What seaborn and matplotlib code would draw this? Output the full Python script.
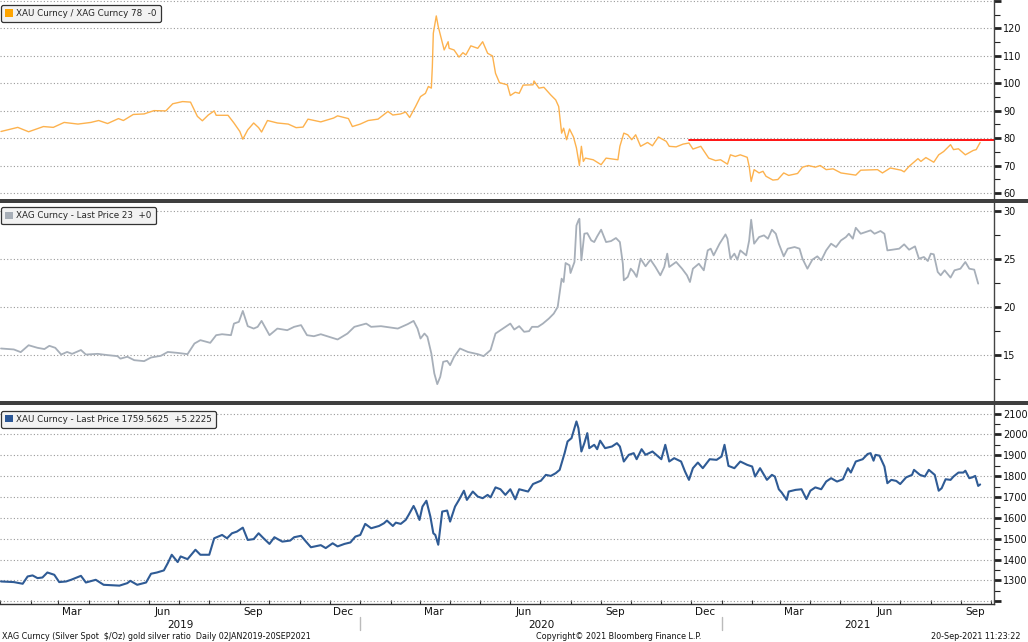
import pandas as pd
import matplotlib
matplotlib.use('Agg')
import matplotlib.pyplot as plt
import matplotlib.dates as mdates
import matplotlib.transforms as mtransforms
from matplotlib.patches import Patch, Rectangle
from matplotlib.ticker import FixedLocator
import seaborn as sns

# day offsets are counted from 1 Jan 2019
start = pd.Timestamp('2019-01-01')
end = pd.Timestamp('2021-10-04')

# XAU / XAG ratio
ratio_day = [1, 18, 29, 44, 54, 65, 79, 92, 100, 109,
             120, 125, 135, 146, 156, 168, 175, 185, 193, 200,
             205, 211, 217, 219, 231, 237, 243, 246, 251, 257,
             262, 265, 271, 281, 292, 300, 307, 312, 325, 338,
             342, 353, 357, 365, 373, 383, 393, 398, 406, 411,
             415, 421, 426, 431, 434, 437, 438, 439, 442, 444,
             450, 454, 455, 460, 465, 469, 472, 477, 484, 489,
             494, 499, 502, 506, 514, 517, 522, 526, 530, 540,
             541, 546, 551, 558, 563, 566, 569, 571, 574, 577,
             581, 584, 587, 589, 591, 593, 601, 609, 614, 626,
             628, 632, 636, 640, 644, 649, 656, 661, 667, 675,
             678, 685, 692, 698, 702, 710, 718, 725, 730, 737,
             740, 745, 750, 757, 759, 761, 764, 769, 773, 776,
             783, 788, 794, 799, 808, 813, 819, 826, 831, 837,
             844, 852, 867, 872, 889, 894, 902, 913, 916, 921,
             930, 933, 938, 946, 951, 956, 963, 966, 971, 978,
             986, 989, 993]
ratio_val = [82.4, 83.9, 82.3, 84.2, 83.9, 85.7, 85.1, 85.7, 86.4, 85.3,
             87.1, 86.4, 88.6, 88.8, 90.0, 89.9, 92.5, 93.3, 93.1, 87.9,
             86.3, 88.4, 89.9, 88.3, 88.3, 85.5, 82.4, 79.6, 83.0, 85.5,
             83.8, 82.2, 86.4, 85.5, 85.1, 83.8, 84.0, 86.9, 85.9, 87.3,
             88.1, 87.1, 84.2, 85.1, 86.4, 86.9, 89.7, 88.4, 88.8, 89.5,
             87.5, 91.5, 95.1, 96.3, 98.8, 98.2, 106.0, 118.2, 124.5, 120.6,
             112.1, 115.1, 112.7, 112.1, 109.5, 111.1, 110.3, 113.6, 112.7, 115.1,
             110.9, 109.9, 103.6, 100.2, 99.4, 95.5, 96.7, 96.3, 99.3, 99.4,
             100.8, 98.2, 98.5, 95.7, 93.9, 91.5, 81.8, 83.6, 79.4, 83.3,
             80.4, 76.4, 70.0, 77.0, 71.5, 72.7, 72.1, 70.3, 72.7, 72.1,
             77.0, 81.8, 81.2, 79.4, 81.2, 77.0, 78.4, 77.2, 80.4, 78.8,
             77.0, 76.8, 77.8, 78.2, 76.0, 77.0, 72.7, 71.8, 72.1, 70.5,
             73.9, 73.3, 73.9, 73.0, 69.7, 64.2, 68.5, 67.3, 67.9, 66.1,
             64.7, 64.9, 67.3, 66.4, 67.1, 69.4, 70.0, 69.4, 70.0, 68.5,
             68.8, 67.3, 66.5, 68.3, 68.5, 67.3, 69.1, 68.3, 67.7, 69.7,
             72.5, 71.5, 72.9, 71.2, 73.9, 75.1, 77.6, 75.8, 76.1, 73.9,
             75.5, 75.8, 78.4]
red_start_day = 698
red_level = 79.3

# XAG spot
silver_day = [1, 14, 21, 29, 38, 45, 50, 56, 62, 68,
              73, 82, 87, 99, 109, 119, 122, 129, 136, 146,
              153, 163, 170, 180, 190, 197, 203, 213, 219, 225,
              234, 237, 242, 246, 251, 257, 261, 265, 273, 281,
              291, 298, 305, 311, 318, 325, 342, 352, 359, 371,
              376, 386, 403, 413, 419, 423, 426, 430, 433, 437,
              440, 443, 446, 449, 453, 456, 460, 466, 474, 484,
              490, 497, 502, 507,
              517, 521, 526, 531, 536, 539, 545, 550, 556, 561,
              565, 569, 571, 573, 577, 578, 582, 584, 586, 587,
              589, 592, 595, 599, 602, 605, 609, 614, 619, 624,
              628, 631, 632, 636, 639, 642, 645, 649, 654, 659,
              664, 669, 673, 676, 678, 685, 691, 696, 699, 702,
              708, 713, 717, 720, 723, 729, 735, 737, 740, 744,
              747, 750, 756, 759, 761, 764, 769, 774, 778, 782,
              786, 789, 794, 798, 805, 810, 813, 818, 823, 828,
              832, 837, 842, 847, 852, 857, 860, 864, 867, 872,
              877, 882, 886, 892, 896, 899, 904, 911, 916, 921,
              927, 931, 936, 940, 943, 946, 950, 953, 957, 963,
              967, 973, 978, 982, 987, 991]
silver_val = [15.66, 15.56, 15.28, 16.0, 15.73, 15.6, 15.94, 15.73, 15.03, 15.3,
              15.1, 15.5, 15.03, 15.1, 14.97, 14.86, 14.6, 14.8, 14.44, 14.34,
              14.72, 14.9, 15.3, 15.2, 15.07, 16.18, 16.53, 16.25, 17.05, 17.15,
              17.05, 18.26, 18.44, 19.58, 17.99, 17.74, 17.92, 18.54, 17.05, 17.74,
              17.57, 17.92, 18.1, 17.05, 16.94, 17.15, 16.6, 17.22, 17.92, 18.26,
              17.92, 17.99, 17.74, 18.2, 18.54, 17.74, 16.7, 17.22, 16.88, 15.14,
              13.06, 11.94, 12.7, 14.27, 14.37, 13.92, 14.79, 15.66, 15.3, 15.07,
              14.86, 15.5, 17.22, 17.57,
              18.26, 17.64, 17.99, 17.4, 17.47, 17.92, 17.92, 18.26, 18.78, 19.3,
              20.0, 22.95, 22.6, 24.58, 24.34, 23.54, 24.69, 28.5, 29.03, 29.2,
              24.86, 27.64, 27.7, 26.94, 26.77, 27.36, 28.06, 26.77, 26.87, 27.19,
              26.77, 24.51, 22.78, 23.13, 23.99, 23.65, 23.13, 25.03, 24.24, 24.93,
              24.17, 23.3, 24.17, 25.56, 24.17, 24.69, 23.99, 23.3, 22.6, 23.99,
              24.51, 23.82, 25.9, 26.08, 25.38, 26.6, 27.57, 27.12, 25.03, 25.56,
              24.93, 25.9, 25.38, 26.94, 29.1, 26.6, 27.29, 27.47, 27.12, 28.06,
              27.64, 26.6, 25.28, 26.08, 26.25, 26.08, 25.03, 23.99, 24.93, 25.28,
              24.86, 25.9, 26.6, 26.25, 26.94, 27.29, 27.64, 27.12, 28.26, 27.64,
              27.81, 27.99, 27.64, 27.92, 27.64, 25.9, 25.97, 26.08, 26.53, 25.97,
              26.32, 25.03, 25.21, 24.79, 25.56, 25.49, 23.65, 23.3, 23.82, 23.06,
              23.82, 23.99, 24.69, 23.99, 23.89, 22.43]

# XAU spot
gold_day = [1, 14, 23, 28, 33, 38, 43, 48, 55, 60,
            67, 72, 82, 87, 97, 105, 121, 129, 132, 139,
            148, 153, 159, 166, 170, 174, 180, 183, 190, 198,
            203, 212, 217, 225, 230, 235, 240, 246, 251, 257,
            262, 267, 273, 278, 286, 294, 298, 305, 310, 315,
            325, 330, 337, 342, 349, 355, 360, 365, 370, 376,
            384, 389, 392, 398, 401, 406, 411, 414, 419, 421,
            425, 428, 432, 436, 439, 441, 444, 448, 453, 456,
            461, 465, 470, 473, 479, 484, 489, 494, 497, 502,
            507,
            512, 517, 522, 526, 535, 540, 548, 553, 558, 563,
            567, 572, 575, 579, 584, 586, 589, 592, 595, 597,
            602, 605, 608, 613, 620, 625, 628, 632, 637, 642,
            645, 650, 654, 661, 670, 674, 678, 683, 690, 694,
            698, 702, 707, 712, 719, 726, 731, 734, 738, 744,
            750, 757, 762, 765, 770, 777, 782, 785, 789, 792,
            797, 799, 806, 812, 817, 821, 826, 832, 837, 842,
            848, 854, 859, 862, 867, 874, 879, 882, 885, 887,
            891, 896, 899, 903, 908, 912, 918, 924, 926, 932,
            937, 941, 947, 951, 954, 958, 963, 966, 971, 976,
            978, 982, 985, 988, 991, 993]
gold_val = [1295, 1292, 1284, 1319, 1324, 1311, 1314, 1338, 1327, 1292,
            1295, 1303, 1322, 1290, 1303, 1279, 1275, 1287, 1298, 1279,
            1290, 1332, 1338, 1348, 1383, 1423, 1388, 1415, 1402, 1447,
            1423, 1423, 1502, 1518, 1502, 1526, 1534, 1553, 1494, 1498,
            1526, 1502, 1475, 1507, 1486, 1491, 1507, 1514, 1486, 1459,
            1469, 1455, 1478, 1463, 1475, 1482, 1510, 1518, 1571, 1550,
            1561, 1574, 1587, 1561, 1577, 1571, 1590, 1614, 1657, 1638,
            1590, 1654, 1682, 1606, 1526, 1518, 1471, 1630, 1635, 1582,
            1654, 1686, 1730, 1686, 1726, 1702, 1694, 1710, 1698, 1746,
            1737,
            1710, 1737, 1689, 1737, 1726, 1762, 1778, 1806, 1801, 1814,
            1830, 1910, 1966, 1982, 2062, 2030, 1918, 1958, 2006, 1934,
            1950, 1929, 1970, 1934, 1942, 1958, 1942, 1870, 1902, 1910,
            1881, 1929, 1902, 1918, 1881, 1950, 1870, 1886, 1870, 1822,
            1782, 1838, 1865, 1838, 1881, 1878, 1894, 1950, 1849, 1838,
            1870, 1854, 1846, 1798, 1838, 1782, 1806, 1798, 1737, 1721,
            1686, 1726, 1734, 1737, 1690, 1730, 1746, 1737, 1774, 1790,
            1774, 1785, 1838, 1817, 1870, 1881, 1906, 1910, 1874, 1902,
            1898, 1846, 1766, 1782, 1777, 1762, 1794, 1806, 1830, 1806,
            1798, 1830, 1806, 1730, 1742, 1785, 1782, 1798, 1817, 1817,
            1826, 1790, 1794, 1801, 1753, 1760]

legend_ratio = 'XAU Curncy / XAG Curncy 78  -0'
legend_silver = 'XAG Curncy - Last Price 23  +0'
legend_gold = 'XAU Curncy - Last Price 1759.5625  +5.2225'


def to_dates(days):
    return start + pd.to_timedelta(days, unit='D')


sns.set_style('white')
plt.rcParams['font.family'] = ['DejaVu Sans']

fig = plt.figure(figsize=(10.28, 6.42), dpi=100)
W = 0.9669
ax1 = fig.add_axes([0, 0.6900, W, 0.3100])
ax2 = fig.add_axes([0, 0.3754, W, 0.3092])
ax3 = fig.add_axes([0, 0.0592, W, 0.3100])

sns.lineplot(x=to_dates(ratio_day), y=ratio_val, ax=ax1, color='#FDB24E', linewidth=1.0)
ax1.plot([to_dates([red_start_day])[0], end], [red_level, red_level], color='#FF0000', linewidth=1.3)
sns.lineplot(x=to_dates(silver_day), y=silver_val, ax=ax2, color='#A7AFB9', linewidth=1.3)
sns.lineplot(x=to_dates(gold_day), y=gold_val, ax=ax3, color='#2F5B95', linewidth=1.5)


def style_panel(ax, ylim, ticks, hidden, minor):
    ax.set_xlim(start, end)
    ax.set_ylim(*ylim)
    ax.yaxis.tick_right()
    ax.set_yticks(ticks)
    ax.set_yticklabels(['' if t in hidden else str(t) for t in ticks])
    ax.yaxis.set_minor_locator(FixedLocator(minor))
    ax.tick_params(axis='y', which='major', direction='out', length=5, width=2,
                   color='#222222', labelsize=7, pad=1.5, labelcolor='#111111')
    ax.tick_params(axis='y', which='minor', direction='out', length=4, width=0.8,
                   color='#222222')
    ax.grid(axis='y', which='major', color='#9a9a9a', linestyle=(0, (1, 2)), linewidth=0.8)
    ax.grid(axis='x', visible=False)
    for s in ['left', 'top', 'bottom']:
        ax.spines[s].set_visible(False)
    ax.spines['right'].set_color('#444444')
    ax.spines['right'].set_linewidth(1)
    ax.set_xlabel('')
    ax.set_ylabel('')


style_panel(ax1, (57.8, 130.3), [60, 70, 80, 90, 100, 110, 120, 130], [130],
            [65, 75, 85, 95, 105, 115, 125])
style_panel(ax2, (10.18, 30.9), [15, 20, 25, 30], [],
            [12.5, 17.5, 22.5, 27.5])
style_panel(ax3, (1187, 2141), list(range(1200, 2101, 100)), [1200],
            list(range(1250, 2101, 100)))

for ax in (ax1, ax2):
    ax.tick_params(axis='x', which='both', bottom=False, labelbottom=False)

# bottom time axis: ticks at month starts, quarterly labels mid-month
ax3.spines['bottom'].set_visible(True)
ax3.spines['bottom'].set_color('#333333')
ax3.spines['bottom'].set_linewidth(1)
ax3.xaxis.set_major_locator(mdates.MonthLocator(bymonth=[3, 6, 9, 12], bymonthday=15))
ax3.xaxis.set_major_formatter(mdates.DateFormatter('%b'))
ax3.xaxis.set_minor_locator(mdates.MonthLocator())
ax3.tick_params(axis='x', which='major', length=0, pad=2, labelsize=7.5, labelcolor='#111111')
ax3.tick_params(axis='x', which='minor', direction='in', length=3, width=0.8,
                color='#333333', bottom=True)

trans = mtransforms.blended_transform_factory(ax3.transData, ax3.transAxes)
years = [pd.Timestamp('2019-01-01'), pd.Timestamp('2020-01-01'), pd.Timestamp('2021-01-01')]
edges = years + [end]
for i, y in enumerate(years):
    mid = edges[i] + (edges[i + 1] - edges[i]) / 2
    ax3.text(mid, -0.106, str(y.year), transform=trans, ha='center', va='center',
             fontsize=7.5, color='#111111')
for y in years[1:]:
    ax3.plot([y, y], [-0.065, -0.131], transform=trans, color='#bbbbbb',
             linewidth=1, clip_on=False)

# legends
for ax, col, txt, anchor in [(ax1, '#FFA500', legend_ratio, 0.975),
                             (ax2, '#A8AFB8', legend_silver, 0.975),
                             (ax3, '#2B5797', legend_gold, 0.97)]:
    leg = ax.legend(handles=[Patch(facecolor=col, edgecolor='none', label=txt)],
                    loc='upper left', bbox_to_anchor=(0.001, anchor), borderaxespad=0,
                    fontsize=6.3, handlelength=0.9, handleheight=0.9, handletextpad=0.4,
                    borderpad=0.45, fancybox=True, framealpha=1, frameon=True)
    leg.get_frame().set_facecolor('#f2f2f2')
    leg.get_frame().set_edgecolor('#333333')
    leg.get_frame().set_linewidth(0.9)

# dark separator bands between panels
for top_px in (198.5, 401):
    fig.patches.append(Rectangle((0, 1 - (top_px + 4) / 642), 1, 4 / 642,
                                 transform=fig.transFigure, facecolor='#3f3f3f',
                                 edgecolor='none', zorder=5))

# footer
fig.text(0.002, 0.0078, 'XAG Curncy (Silver Spot  $/Oz) gold silver ratio  Daily 02JAN2019-20SEP2021',
         fontsize=5.8, color='#111111', va='center', ha='left')
fig.text(0.602, 0.0078, 'Copyright\u00a9 2021 Bloomberg Finance L.P.', fontsize=5.8,
         color='#111111', va='center', ha='center')
fig.text(0.993, 0.0078, '20-Sep-2021 11:23:22', fontsize=5.8, color='#111111',
         va='center', ha='right')

fig.savefig('out.png', dpi=100)
